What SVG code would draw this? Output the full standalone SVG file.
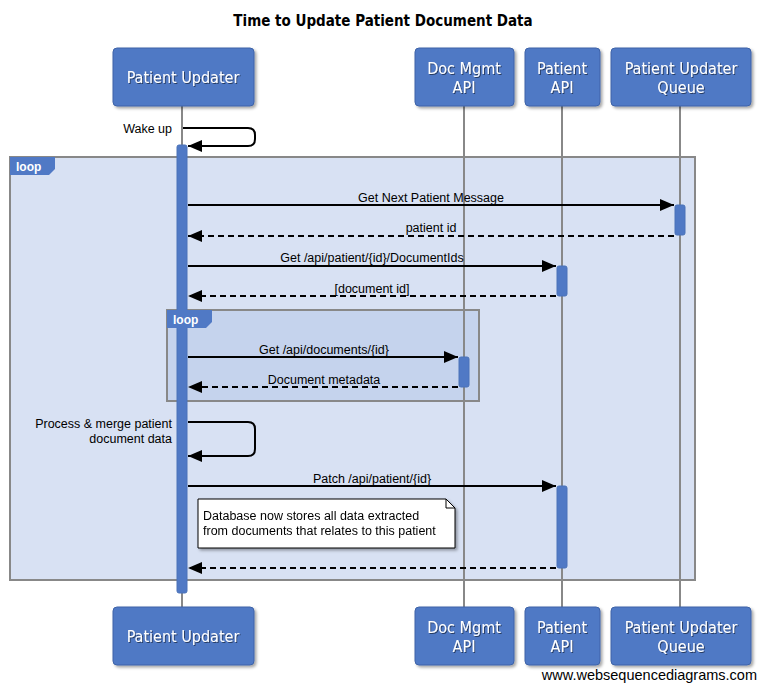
<svg xmlns="http://www.w3.org/2000/svg" width="766" height="689" viewBox="0 0 766 689">
<defs>
<filter id="sh" x="-10%" y="-10%" width="130%" height="130%"><feDropShadow dx="2" dy="2" stdDeviation="1.5" flood-color="#000" flood-opacity="0.35"/></filter>
<filter id="ts" x="-10%" y="-10%" width="130%" height="130%"><feDropShadow dx="1" dy="1" stdDeviation="0.6" flood-color="#000" flood-opacity="0.5"/></filter>
<marker id="ah" viewBox="0 0 14 12" refX="14" refY="6" markerWidth="14" markerHeight="12" markerUnits="userSpaceOnUse" orient="auto"><path d="M0,0 L14,6 L0,12 Z" fill="#000"/></marker>
</defs>
<style>
.title{font-family:"DejaVu Sans Condensed","Liberation Sans",sans-serif;font-size:15px;font-weight:bold;fill:#000}
.pbox{fill:#5079c5;stroke:#3e63a8;stroke-width:1}
.pname{font-family:"DejaVu Sans Condensed","Liberation Sans",sans-serif;font-size:16px;fill:#fff;text-anchor:middle}
.life{stroke:#888;stroke-width:2}
.act{fill:#5079c5;stroke:#4a72b8;stroke-width:1}
.frame{stroke:#888;stroke-width:2}
.lbl{font-family:"Liberation Sans",Arial,sans-serif;font-size:12.5px;fill:#000}
.msg{stroke:#000;stroke-width:2;fill:none}
.dash{stroke-dasharray:6,4}
.loopt{font-family:"Liberation Sans",Arial,sans-serif;font-size:12px;fill:#fff;font-weight:bold}
</style>
<rect width="766" height="689" fill="#fff"/>
<text class="title" x="383" y="26" text-anchor="middle">Time to Update Patient Document Data</text>

<g id="lifelines">
<line class="life" x1="182" y1="106" x2="182" y2="607"/>
<line class="life" x1="464" y1="106" x2="464" y2="607"/>
<line class="life" x1="562" y1="106" x2="562" y2="607"/>
<line class="life" x1="680" y1="106" x2="680" y2="607"/>
</g>

<g id="loop-outer-frame">
<rect class="frame" x="10" y="157" width="685" height="423" fill="#d6dff2" fill-opacity="0.95"/>
</g>
<g id="loop-inner-frame">
<rect class="frame" x="167" y="310" width="312" height="91" fill="#c3d1ec" fill-opacity="0.9"/>
</g>

<g id="lifelines-over">
<line class="life" x1="464" y1="157" x2="464" y2="580"/>
<line class="life" x1="562" y1="157" x2="562" y2="580"/>
<line class="life" x1="680" y1="157" x2="680" y2="580"/>
</g>

<g id="activations">
<rect class="act" x="177" y="145" width="10" height="448" rx="2"/>
<rect class="act" x="675" y="205" width="10" height="30" rx="2"/>
<rect class="act" x="557" y="266" width="10" height="30" rx="2"/>
<rect class="act" x="459" y="357" width="10" height="30" rx="2"/>
<rect class="act" x="557" y="486" width="10" height="82" rx="2"/>
</g>

<g id="loop-outer-tab">
<path d="M10,157 H55 V169 L49,175 H10 Z" fill="#5079c5"/>
<text class="loopt" x="16" y="171">loop</text>
</g>
<g id="loop-inner-tab">
<path d="M167,310 H212 V322 L206,328 H167 Z" fill="#5079c5"/>
<text class="loopt" x="173" y="324">loop</text>
</g>

<g id="participant-top-patient-updater" filter="url(#sh)"><rect class="pbox" x="113" y="48" width="141" height="58" rx="4"/><text class="pname" x="183" y="83" filter="url(#ts)">Patient Updater</text></g>
<g id="participant-top-doc-mgmt" filter="url(#sh)"><rect class="pbox" x="415" y="48" width="99" height="58" rx="4"/><text class="pname" x="464" y="74" filter="url(#ts)">Doc Mgmt</text><text class="pname" x="464" y="93" filter="url(#ts)">API</text></g>
<g id="participant-top-patient-api" filter="url(#sh)"><rect class="pbox" x="525" y="48" width="75" height="58" rx="4"/><text class="pname" x="562" y="74" filter="url(#ts)">Patient</text><text class="pname" x="562" y="93" filter="url(#ts)">API</text></g>
<g id="participant-top-queue" filter="url(#sh)"><rect class="pbox" x="611" y="48" width="140" height="58" rx="4"/><text class="pname" x="681" y="74" filter="url(#ts)">Patient Updater</text><text class="pname" x="681" y="93" filter="url(#ts)">Queue</text></g>

<g id="participant-bottom-patient-updater" filter="url(#sh)"><rect class="pbox" x="113" y="607" width="141" height="58" rx="4"/><text class="pname" x="183" y="642" filter="url(#ts)">Patient Updater</text></g>
<g id="participant-bottom-doc-mgmt" filter="url(#sh)"><rect class="pbox" x="415" y="607" width="99" height="58" rx="4"/><text class="pname" x="464" y="633" filter="url(#ts)">Doc Mgmt</text><text class="pname" x="464" y="652" filter="url(#ts)">API</text></g>
<g id="participant-bottom-patient-api" filter="url(#sh)"><rect class="pbox" x="525" y="607" width="75" height="58" rx="4"/><text class="pname" x="562" y="633" filter="url(#ts)">Patient</text><text class="pname" x="562" y="652" filter="url(#ts)">API</text></g>
<g id="participant-bottom-queue" filter="url(#sh)"><rect class="pbox" x="611" y="607" width="140" height="58" rx="4"/><text class="pname" x="681" y="633" filter="url(#ts)">Patient Updater</text><text class="pname" x="681" y="652" filter="url(#ts)">Queue</text></g>

<g id="connectors">
<path class="msg" d="M183,128 H248 Q255,128 255,135 V139 Q255,146 248,146 H188" marker-end="url(#ah)"/>
<text class="lbl" x="172" y="133" text-anchor="end">Wake up</text>

<line class="msg" x1="188" y1="205" x2="674" y2="205" marker-end="url(#ah)"/>
<text class="lbl" x="431" y="202" text-anchor="middle">Get Next Patient Message</text>
<line class="msg dash" x1="674" y1="236" x2="188" y2="236" marker-end="url(#ah)"/>
<text class="lbl" x="431" y="232" text-anchor="middle">patient id</text>

<line class="msg" x1="188" y1="266" x2="556" y2="266" marker-end="url(#ah)"/>
<text class="lbl" x="372" y="262" text-anchor="middle">Get /api/patient/{id}/DocumentIds</text>
<line class="msg dash" x1="556" y1="296" x2="188" y2="296" marker-end="url(#ah)"/>
<text class="lbl" x="372" y="293" text-anchor="middle">[document id]</text>

<line class="msg" x1="188" y1="357" x2="458" y2="357" marker-end="url(#ah)"/>
<text class="lbl" x="324" y="354" text-anchor="middle">Get /api/documents/{id}</text>
<line class="msg dash" x1="458" y1="387" x2="188" y2="387" marker-end="url(#ah)"/>
<text class="lbl" x="324" y="384" text-anchor="middle">Document metadata</text>

<path class="msg" d="M188,422 H248 Q255,422 255,429 V449 Q255,456 248,456 H188" marker-end="url(#ah)"/>
<text class="lbl" x="172" y="428" text-anchor="end">Process &amp; merge patient</text>
<text class="lbl" x="172" y="443" text-anchor="end">document data</text>

<line class="msg" x1="188" y1="486" x2="556" y2="486" marker-end="url(#ah)"/>
<text class="lbl" x="372" y="483" text-anchor="middle">Patch /api/patient/{id}</text>

<line class="msg dash" x1="556" y1="568" x2="188" y2="568" marker-end="url(#ah)"/>
</g>

<g id="note" filter="url(#sh)">
<path d="M198,499 H446 L455,508 V548 H198 Z" fill="#fff" stroke="#000" stroke-width="1"/>
<path d="M446,499 V508 H455" fill="none" stroke="#000" stroke-width="1"/>
<text class="lbl" x="203" y="520">Database now stores all data extracted</text>
<text class="lbl" x="203" y="535">from documents that relates to this patient</text>
</g>

<text x="757" y="680" text-anchor="end" font-family="Liberation Sans,Arial,sans-serif" font-size="14.5" fill="#000">www.websequencediagrams.com</text>
</svg>
